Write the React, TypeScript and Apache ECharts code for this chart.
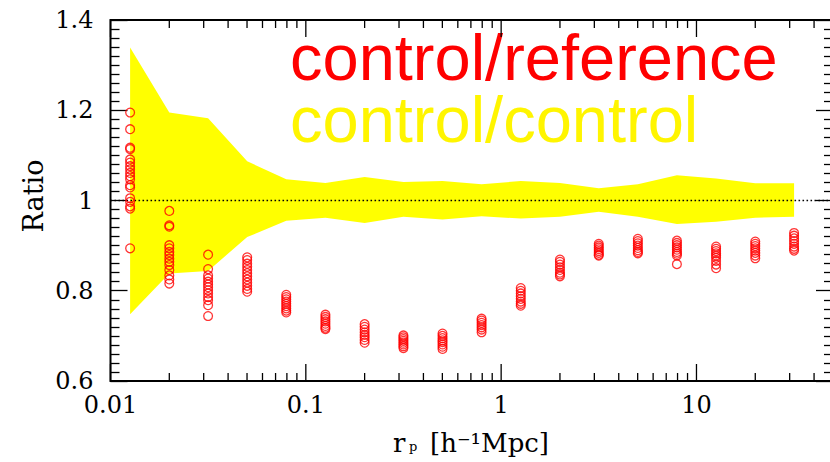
import React, { useEffect, useRef } from "react";
import * as echarts from "echarts";

// projected separation bins (h^-1 Mpc)
const rp = [0.0126, 0.02, 0.0316, 0.0501, 0.0794, 0.126, 0.2, 0.316, 0.501, 0.794, 1.26, 2.0, 3.16, 5.01, 7.94, 12.6, 20.0, 31.6];

// control/control scatter band
const bandUpper = [1.339, 1.195, 1.182, 1.087, 1.047, 1.039, 1.052, 1.041, 1.043, 1.036, 1.043, 1.039, 1.027, 1.036, 1.056, 1.049, 1.038, 1.038];
const bandLower = [0.748, 0.838, 0.844, 0.919, 0.955, 0.962, 0.95, 0.964, 0.958, 0.965, 0.96, 0.964, 0.975, 0.964, 0.948, 0.953, 0.962, 0.964];

// control/reference ratios, one list per bin
const ratioBin01 = [1.195, 1.158, 1.117, 1.114, 1.091, 1.084, 1.076, 1.069, 1.061, 1.054, 1.047, 1.034, 1.029, 1.005, 0.997, 0.987, 0.982, 0.894];
const ratioBin02 = [0.977, 0.945, 0.942, 0.901, 0.894, 0.886, 0.879, 0.871, 0.864, 0.857, 0.846, 0.834, 0.825, 0.816];
const ratioBin03 = [0.88, 0.848, 0.834, 0.827, 0.82, 0.814, 0.808, 0.801, 0.794, 0.786, 0.779, 0.768, 0.744];
const ratioBin04 = [0.874, 0.868, 0.86, 0.853, 0.846, 0.839, 0.832, 0.825, 0.818, 0.811, 0.804, 0.798];
const ratioBin05 = [0.791, 0.786, 0.781, 0.776, 0.771, 0.766, 0.761, 0.756, 0.752];
const ratioBin06 = [0.747, 0.742, 0.737, 0.732, 0.727, 0.722, 0.718, 0.715];
const ratioBin07 = [0.726, 0.72, 0.714, 0.708, 0.702, 0.697, 0.691, 0.685];
const ratioBin08 = [0.701, 0.697, 0.693, 0.689, 0.685, 0.681, 0.677, 0.673];
const ratioBin09 = [0.705, 0.7, 0.695, 0.69, 0.686, 0.681, 0.676, 0.671];
const ratioBin10 = [0.738, 0.734, 0.729, 0.724, 0.719, 0.714, 0.708];
const ratioBin11 = [0.806, 0.8, 0.794, 0.788, 0.782, 0.776, 0.771, 0.767];
const ratioBin12 = [0.869, 0.864, 0.858, 0.852, 0.846, 0.84, 0.836, 0.832];
const ratioBin13 = [0.904, 0.9, 0.896, 0.892, 0.888, 0.884, 0.88, 0.878];
const ratioBin14 = [0.915, 0.91, 0.905, 0.9, 0.895, 0.89, 0.886, 0.883];
const ratioBin15 = [0.911, 0.906, 0.901, 0.896, 0.891, 0.886, 0.882, 0.878, 0.859];
const ratioBin16 = [0.898, 0.893, 0.888, 0.883, 0.878, 0.873, 0.866, 0.858, 0.85];
const ratioBin17 = [0.909, 0.904, 0.899, 0.894, 0.889, 0.884, 0.878, 0.872];
const ratioBin18 = [0.928, 0.922, 0.916, 0.91, 0.904, 0.898, 0.893, 0.889];

const ratioBins = [
  ratioBin01, ratioBin02, ratioBin03, ratioBin04, ratioBin05, ratioBin06,
  ratioBin07, ratioBin08, ratioBin09, ratioBin10, ratioBin11, ratioBin12,
  ratioBin13, ratioBin14, ratioBin15, ratioBin16, ratioBin17, ratioBin18,
];

// axis ticks
const xMajorTicks = [0.01, 0.1, 1, 10];
const xMinorTicks = [
  0.02, 0.03, 0.04, 0.05, 0.06, 0.07, 0.08, 0.09,
  0.2, 0.3, 0.4, 0.5, 0.6, 0.7, 0.8, 0.9,
  2, 3, 4, 5, 6, 7, 8, 9,
  20, 30, 40,
];
const xMin = 0.01;
const xMax = 50;
const yMin = 0.6;
const yMax = 1.4;
const refLevel = 1;

const legendRed = "control/reference";
const legendYellow = "control/control";

const SERIF = '"DejaVu Serif", serif';
const SANS = '"Liberation Sans", Arial, sans-serif';

export default function App() {
  const ref = useRef<HTMLDivElement>(null);

  useEffect(() => {
    if (!ref.current) return;
    const chart = echarts.init(ref.current, undefined, { renderer: "svg" });

    const scatterData: number[][] = [];
    ratioBins.forEach((bin, i) => bin.forEach((v) => scatterData.push([rp[i], v])));

    const yAxisCommon = {
      type: "value",
      min: yMin,
      max: yMax,
      interval: 0.2,
      axisLine: { show: false },
      splitLine: { show: false },
      axisTick: { show: true, inside: true, length: 17, lineStyle: { color: "#000", width: 1.3 } },
      minorTick: { show: true, splitNumber: 10, length: 9, lineStyle: { color: "#000", width: 1.3 } },
      minorSplitLine: { show: false },
    };

    chart.setOption({
      animation: false,
      grid: {
        left: 110.5,
        top: 20,
        width: 722.5,
        height: 361,
        show: true,
        borderColor: "#000",
        borderWidth: 2,
        backgroundColor: "transparent",
      },
      xAxis: {
        type: "log",
        logBase: 10,
        min: xMin,
        max: xMax,
        axisLine: { show: false },
        axisTick: { show: false },
        splitLine: { show: false },
        minorSplitLine: { show: false },
        axisLabel: {
          show: true,
          margin: 12,
          color: "#000",
          fontFamily: SERIF,
          fontSize: 24,
          formatter: (v: number) => {
            const l = Math.log10(v);
            return Math.abs(l - Math.round(l)) < 1e-6 ? String(parseFloat(v.toPrecision(6))) : "";
          },
        },
      },
      yAxis: [
        {
          ...yAxisCommon,
          position: "left",
          axisLabel: { show: true, margin: 17, color: "#000", fontFamily: SERIF, fontSize: 24 },
        },
        {
          ...yAxisCommon,
          position: "right",
          axisLabel: { show: false },
        },
      ],
      series: [
        {
          type: "custom",
          name: "band",
          silent: true,
          z: 1,
          data: [[rp[0], refLevel]],
          renderItem: (_params: any, api: any) => {
            const pts: number[][] = rp.map((x, i) => api.coord([x, bandUpper[i]]));
            for (let i = rp.length - 1; i >= 0; i--) pts.push(api.coord([rp[i], bandLower[i]]));
            return { type: "polygon", shape: { points: pts }, style: { fill: "#ffff00", stroke: "none" } };
          },
        },
        {
          type: "line",
          name: "unity",
          silent: true,
          z: 2,
          symbol: "none",
          data: [[xMin, refLevel], [xMax, refLevel]],
          lineStyle: { color: "#000", width: 1.6, type: [1.6, 2.4] },
        },
        {
          type: "scatter",
          name: legendRed,
          z: 3,
          symbol: "circle",
          symbolSize: 8.8,
          data: scatterData,
          itemStyle: { color: "rgba(0,0,0,0)", borderColor: "#ff0000", borderWidth: 1.3 },
        },
        {
          type: "custom",
          name: "xticks",
          silent: true,
          clip: false,
          z: 4,
          data: [[1, refLevel]],
          renderItem: (_params: any, api: any) => {
            const children: any[] = [];
            const add = (v: number, len: number) => {
              const b = api.coord([v, yMin]);
              const t = api.coord([v, yMax]);
              const style = { stroke: "#000", lineWidth: 1.3 };
              children.push({ type: "line", shape: { x1: b[0], y1: b[1], x2: b[0], y2: b[1] - len }, style });
              children.push({ type: "line", shape: { x1: t[0], y1: t[1], x2: t[0], y2: t[1] + len }, style });
            };
            xMajorTicks.forEach((v) => add(v, 17));
            xMinorTicks.forEach((v) => add(v, 8));
            return { type: "group", children };
          },
        },
      ],
      graphic: [
        {
          type: "text",
          x: 290,
          y: 57.5,
          style: { text: legendRed, fill: "#ff0000", fontFamily: SANS, fontSize: 65, lineHeight: 52, textAlign: "left", textVerticalAlign: "middle" },
        },
        {
          type: "text",
          x: 290,
          y: 119.2,
          style: { text: legendYellow, fill: "#fff500", fontFamily: SANS, fontSize: 65, lineHeight: 52, textAlign: "left", textVerticalAlign: "middle" },
        },
        {
          type: "text",
          x: 33.7,
          y: 196,
          rotation: Math.PI / 2,
          style: { text: "Ratio", fill: "#000", fontFamily: SERIF, fontSize: 27, textAlign: "center", textVerticalAlign: "middle" },
        },
        {
          type: "text",
          x: 393,
          y: 442.7,
          style: { text: "r", fill: "#000", fontFamily: SERIF, fontSize: 26, textAlign: "left", textVerticalAlign: "middle" },
        },
        {
          type: "text",
          x: 409,
          y: 446,
          style: { text: "p", fill: "#000", fontFamily: SERIF, fontSize: 13, textAlign: "left", textVerticalAlign: "middle" },
        },
        {
          type: "text",
          x: 430,
          y: 442.7,
          style: { text: "[h⁻¹Mpc]", fill: "#000", fontFamily: SERIF, fontSize: 26, textAlign: "left", textVerticalAlign: "middle" },
        },
      ],
    });

    return () => chart.dispose();
  }, []);

  return (
    <div style={{ position: "absolute", left: 0, top: 0, width: 830, height: 462, overflow: "hidden", background: "#fff" }}>
      <div ref={ref} style={{ width: 840, height: 462 }} />
    </div>
  );
}
